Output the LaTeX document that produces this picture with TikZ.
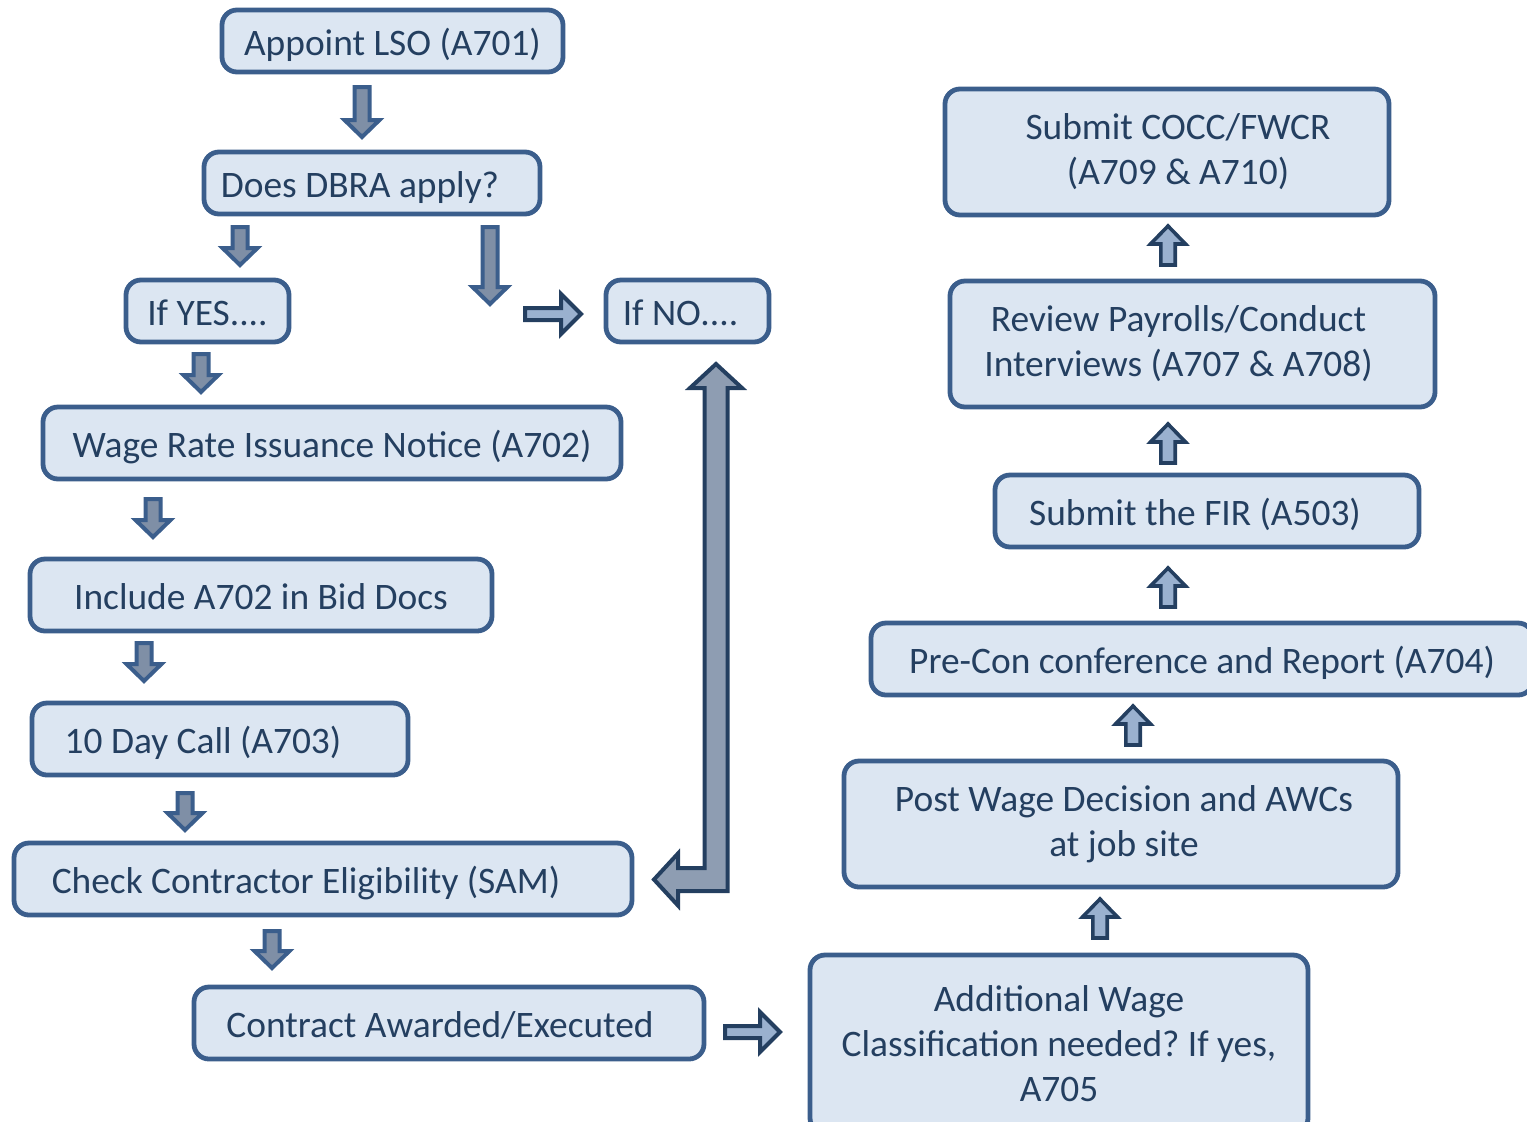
\documentclass[tikz,border=0pt]{standalone}
\usepackage{fontspec}
\setmainfont{Carlito}
\usetikzlibrary{calc}
\frenchspacing
\definecolor{boxfill}{HTML}{DCE6F2}
\definecolor{boxline}{HTML}{3B5E8C}
\definecolor{txt}{HTML}{243F60}
\definecolor{darrfill}{HTML}{7F8FA6}
\definecolor{rarrfill}{HTML}{9AB1CF}
\definecolor{darkline}{HTML}{243F60}
\definecolor{elbfill}{HTML}{8E9DB2}
\tikzset{
  box/.style={draw=boxline, fill=boxfill, line width=2.4pt, rounded corners=7.5pt,
    inner sep=0pt, align=center, text=txt, font=\fontsize{18.7}{22.5}\selectfont},
  onebox/.style={box, text height=16.5pt, text depth=2.5pt},
  arrsw/.store in=\arrsw, arrhw/.store in=\arrhw, arrhl/.store in=\arrhl,
  downarr/.style={draw=boxline, fill=darrfill, line width=2pt, arrsw=3.75pt, arrhw=8.75pt, arrhl=8.5pt},
  rightarr/.style={draw=darkline, fill=rarrfill, line width=2pt, arrsw=3pt, arrhw=10pt, arrhl=10pt},
  uparr/.style={draw=darkline, fill=rarrfill, line width=1.8pt, arrsw=3.6pt, arrhw=8.75pt, arrhl=9pt},
  elbowarr/.style={draw=darkline, fill=elbfill, line width=2pt, line join=miter},
}
\newcommand\blockarrow[3]{%
  \path[#1] let \p1=($(#3)-(#2)$), \n1={veclen(\x1,\y1)}, \n2={scalar(atan2(\y1,\x1))} in
    [shift={(#2)}, rotate=\n2]
    (0pt,-\arrsw) -- ({\n1-\arrhl},-\arrsw) -- ({\n1-\arrhl},-\arrhw) -- (\n1,0pt)
    -- ({\n1-\arrhl},\arrhw) -- ({\n1-\arrhl},\arrsw) -- (0pt,\arrsw) -- cycle;}
\begin{document}
\begin{tikzpicture}[x=0.5pt,y=-0.5pt]
\useasboundingbox (0,0) rectangle (1527,1121);
% left column
\node[onebox, minimum width=170.5pt, minimum height=31pt] (A) at (392.5,41) {Appoint LSO (A701)};
\node[onebox, minimum width=168pt, minimum height=31pt] (B) at (372,183) {\hspace*{-12pt}Does DBRA apply?};
\node[onebox, minimum width=81.5pt, minimum height=31pt] (C) at (207.5,311) {If YES....};
\node[onebox, minimum width=81.5pt, minimum height=31pt] (D) at (687.5,311) {\hspace*{-7pt}If NO....};
\node[onebox, minimum width=289pt, minimum height=36pt] (E) at (332,443) {Wage Rate Issuance Notice (A702)};
\node[onebox, minimum width=231pt, minimum height=36pt] (F) at (261,595) {Include A702 in Bid Docs};
\node[onebox, minimum width=188pt, minimum height=36pt] (G) at (220,739) {\hspace*{-17pt}10 Day Call (A703)};
\node[onebox, minimum width=309pt, minimum height=36pt] (H) at (323,879) {\hspace*{-17pt}Check Contractor Eligibility (SAM)};
\node[onebox, minimum width=255pt, minimum height=36pt] (I) at (449,1023) {\hspace*{-9pt}Contract Awarded/Executed};
% right column
\node[box, minimum width=249pt, minimum height=89pt] (J) at (1059,1044) {Additional Wage\\Classification needed? If yes,\\A705};
\node[box, minimum width=277pt, minimum height=63pt] (K) at (1121,824) {\hspace*{3pt}Post Wage Decision and AWCs\\\hspace*{3pt}at job site};
\node[onebox, minimum width=331pt, minimum height=36pt] (L) at (1202,659) {Pre-Con conference and Report (A704)};
\node[onebox, minimum width=212pt, minimum height=36pt] (M) at (1207,511) {\hspace*{-12pt}Submit the FIR (A503)};
\node[box, minimum width=242.5pt, minimum height=63pt] (N) at (1192.5,344) {\hspace*{-14pt}Review Payrolls/Conduct\\\hspace*{-14pt}Interviews (A707 \& A708)};
\node[box, minimum width=222pt, minimum height=63pt] (O) at (1167,152) {\hspace*{11pt}Submit COCC/FWCR\\\hspace*{11pt}(A709 \& A710)};
% arrow end points
\coordinate (a1s) at (362,87);  \coordinate (a1e) at (362,137);
\coordinate (a2s) at (240,227); \coordinate (a2e) at (240,265);
\coordinate (a3s) at (490,227); \coordinate (a3e) at (490,304);
\coordinate (a5s) at (201,354); \coordinate (a5e) at (201,392);
\coordinate (a6s) at (153,499); \coordinate (a6e) at (153,537);
\coordinate (a7s) at (144,643); \coordinate (a7e) at (144,681);
\coordinate (a8s) at (185,793); \coordinate (a8e) at (185,830);
\coordinate (a9s) at (272,931); \coordinate (a9e) at (272,968);
\coordinate (a4s) at (525,314); \coordinate (a4e) at (581,314);
\coordinate (a10s) at (725,1032); \coordinate (a10e) at (780,1032);
\coordinate (u1s) at (1168,265); \coordinate (u1e) at (1168,226);
\coordinate (u2s) at (1168,463); \coordinate (u2e) at (1168,424);
\coordinate (u3s) at (1168,607); \coordinate (u3e) at (1168,568);
\coordinate (u4s) at (1133,745); \coordinate (u4e) at (1133,706);
\coordinate (u5s) at (1100,938); \coordinate (u5e) at (1100,899);
\blockarrow{downarr}{a1s}{a1e}
\blockarrow{downarr}{a2s}{a2e}
\blockarrow{downarr}{a3s}{a3e}
\blockarrow{downarr}{a5s}{a5e}
\blockarrow{downarr}{a6s}{a6e}
\blockarrow{downarr}{a7s}{a7e}
\blockarrow{downarr}{a8s}{a8e}
\blockarrow{downarr}{a9s}{a9e}
\blockarrow{rightarr}{a4s}{a4e}
\blockarrow{rightarr}{a10s}{a10e}
\blockarrow{uparr}{u1s}{u1e}
\blockarrow{uparr}{u2s}{u2e}
\blockarrow{uparr}{u3s}{u3e}
\blockarrow{uparr}{u4s}{u4e}
\blockarrow{uparr}{u5s}{u5e}
% elbow arrow from Check Contractor to If NO
\filldraw[elbowarr] (716,364) -- (742,388) -- (727.5,388) -- (727.5,891) -- (678,891)
  -- (678,905.5) -- (654,879.5) -- (678,853.5) -- (678,868) -- (704.5,868)
  -- (704.5,388) -- (690,388) -- cycle;
\end{tikzpicture}
\end{document}
